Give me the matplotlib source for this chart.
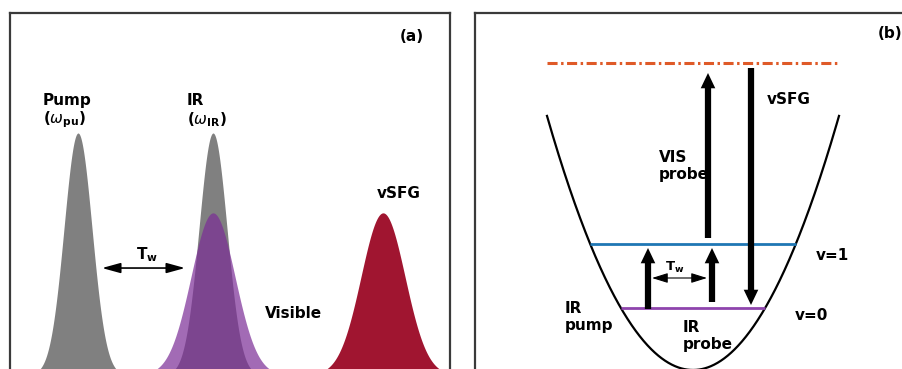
import numpy as np
import matplotlib
matplotlib.use("Agg")
import matplotlib.pyplot as plt

plt.rcParams['font.family'] = ['DejaVu Sans']
plt.rcParams['mathtext.fontset'] = 'dejavusans'

# ---------------- data: panel (a) pulses ----------------
pulse_names = ["pump", "ir", "visible", "vsfg"]
pulse_centers = [6.8, 20.3, 20.3, 37.3]
pulse_heights = [1.0, 1.0, 0.67, 0.67]
pulse_sigmas = [1.4, 1.4, 2.2, 2.2]

# ---------------- data: panel (b) energy diagram ----------------
well_curvature = 0.298
well_halfwidth = 2.92
level_energies = [0.62, 1.26]          # v=0, v=1
virtual_energy = 3.07
arrow_x = [-0.9, 0.38, 0.3, 1.16]       # IR pump, IR probe, VIS probe, vSFG
arrow_start = [0.61, 0.68, 1.32, 3.02]
arrow_end = [1.22, 1.22, 2.97, 0.65]

W, H, DPI = 903, 369, 100
fig = plt.figure(figsize=(W / DPI, H / DPI), dpi=DPI)
fig.patch.set_facecolor('white')

def px_axes(x0, x1, ytop, ybot):
    return fig.add_axes([x0 / W, (H - ybot) / H, (x1 - x0) / W, (ybot - ytop) / H])

frame_color = '#3a3a3a'
frame_lw = 1.6
fs = 11

# ---------------- panel (a) ----------------
axa = px_axes(10, 450, 13, 385)
axa.set_xlim(0, 44)
axa.set_ylim((375 - 385) / 242, (375 - 13) / 242)
x = np.linspace(0, 44, 2000)
colors = {"pump": '#808080', "ir": '#808080', "visible": '#7b2d96', "vsfg": '#a01530'}
alphas = {"pump": 1.0, "ir": 1.0, "visible": 0.7, "vsfg": 1.0}
for name, c, h, s in zip(pulse_names, pulse_centers, pulse_heights, pulse_sigmas):
    y = h * np.exp(-0.5 * ((x - c) / s) ** 2)
    axa.fill_between(x, 0, y, color=colors[name], alpha=alphas[name], lw=0)

axa.text(3.3, 1.116, 'Pump', fontsize=fs, fontweight='bold', ha='left', va='baseline')
axa.text(3.3, 1.055, r'($\omega_{\mathbf{pu}}$)', fontsize=fs, fontweight='bold', ha='left', va='center')
axa.text(17.7, 1.116, 'IR', fontsize=fs, fontweight='bold', ha='left', va='baseline')
axa.text(17.7, 1.055, r'($\omega_{\mathbf{IR}}$)', fontsize=fs, fontweight='bold', ha='left', va='center')
axa.text(25.5, 0.256, 'Visible', fontsize=fs, fontweight='bold', ha='left', va='center')
axa.text(36.7, 0.752, 'vSFG', fontsize=fs, fontweight='bold', ha='left', va='center')
axa.text(39.0, 1.40, '(a)', fontsize=fs, fontweight='bold', ha='left', va='center')
axa.text(13.7, 0.496, r'$\mathbf{T}_\mathbf{w}$', fontsize=fs, ha='center', va='center')
axa.annotate('', xy=(17.5, 0.442), xytext=(9.2, 0.442),
             arrowprops=dict(arrowstyle='<|-|>,head_length=0.8,head_width=0.22',
                             color='black', lw=1.2, shrinkA=0, shrinkB=0, mutation_scale=14))

axa.set_xticks([]); axa.set_yticks([])
for sp in axa.spines.values():
    sp.set_color(frame_color); sp.set_linewidth(frame_lw)

# ---------------- panel (b) ----------------
axb = px_axes(475, 932, 13, 385)
axb.set_xlim((475 - 693) / 50, (932 - 693) / 50)
axb.set_ylim((370 - 385) / 100, (370 - 13) / 100)
xx = np.linspace(-well_halfwidth, well_halfwidth, 600)
axb.plot(xx, well_curvature * xx ** 2, color='black', lw=1.6)

level_colors = ['#8e44ad', '#1f77b4']
for E, c in zip(level_energies, level_colors):
    half = np.sqrt(E / well_curvature)
    axb.plot([-half, half], [E, E], color=c, lw=2.0, solid_capstyle='butt')

axb.plot([-well_halfwidth, well_halfwidth], [virtual_energy, virtual_energy],
         color='#df5a28', lw=2.2, dashes=(3.3, 1.15, 0.8, 1.15))

for xa, ys, ye in zip(arrow_x, arrow_start, arrow_end):
    axb.annotate('', xy=(xa, ye), xytext=(xa, ys),
                 arrowprops=dict(arrowstyle='simple,head_length=1.1,head_width=1.05,tail_width=0.45',
                                 color='black', lw=0, shrinkA=0, shrinkB=0, mutation_scale=10))

axb.annotate('', xy=(0.28, 0.92), xytext=(-0.82, 0.92),
             arrowprops=dict(arrowstyle='<|-|>,head_length=0.8,head_width=0.25',
                             color='black', lw=0.8, shrinkA=0, shrinkB=0, mutation_scale=12))
axb.text(-0.36, 1.03, r'$\mathbf{T}_\mathbf{w}$', fontsize=9.5, ha='center', va='center')

axb.text(3.70, 3.37, '(b)', fontsize=fs, fontweight='bold', ha='left', va='center')
axb.text(1.48, 2.70, 'vSFG', fontsize=fs, fontweight='bold', ha='left', va='center')
axb.text(-0.68, 2.04, 'VIS\nprobe', fontsize=fs, fontweight='bold', ha='left', va='center', linespacing=1.1)
axb.text(2.46, 1.15, 'v=1', fontsize=fs, fontweight='bold', ha='left', va='center')
axb.text(2.04, 0.55, 'v=0', fontsize=fs, fontweight='bold', ha='left', va='center')
axb.text(-2.56, 0.53, 'IR\npump', fontsize=fs, fontweight='bold', ha='left', va='center', linespacing=1.1)
axb.text(-0.2, 0.34, 'IR\nprobe', fontsize=fs, fontweight='bold', ha='left', va='center', linespacing=1.1)

axb.set_xticks([]); axb.set_yticks([])
for sp in axb.spines.values():
    sp.set_color(frame_color); sp.set_linewidth(frame_lw)

fig.savefig('out.png', dpi=DPI)
